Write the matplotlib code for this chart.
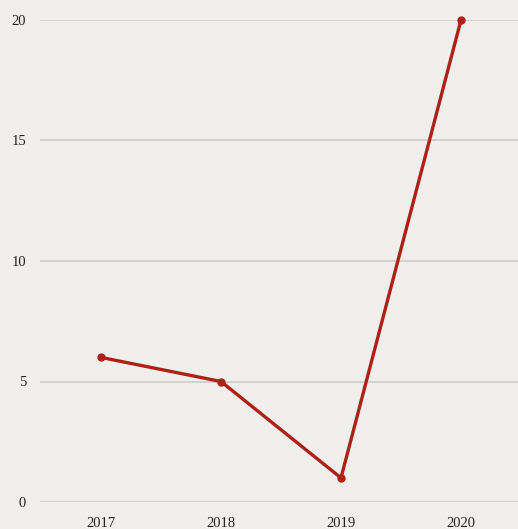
import matplotlib.pyplot as plt

years  = ["2017", "2018", "2019", "2020"]
values = [6, 5, 1, 20]
y_ticks = [0, 5, 10, 15, 20]

BG = "#f0efeb"
LINE = "#ad2218"

plt.rcParams['font.family'] = ['Liberation Serif', 'DejaVu Serif']

fig = plt.figure(figsize=(5.18, 5.29), dpi=100, facecolor=BG)
ax = fig.add_axes([40 / 518, 27 / 529, 478 / 518, 482 / 529], facecolor=BG)

x = range(len(years))
ax.plot(x, values, color=LINE, linewidth=2.4, marker='o', markersize=5,
        clip_on=False, zorder=3)

ax.set_xlim(-0.508, 3.475)
ax.set_ylim(0, 20)
ax.set_xticks(list(x))
ax.set_xticklabels(years)
ax.set_yticks(y_ticks)
ax.set_yticklabels([str(t) for t in y_ticks])

ax.grid(axis='y', color='#d0cfcb', linewidth=1.3)
ax.set_axisbelow(True)
for s in ax.spines.values():
    s.set_visible(False)
ax.tick_params(length=0, colors='#222222', labelsize=10.5)
ax.tick_params(axis='y', pad=10)
ax.tick_params(axis='x', pad=11)

fig.savefig("out.png", dpi=100, facecolor=BG)
